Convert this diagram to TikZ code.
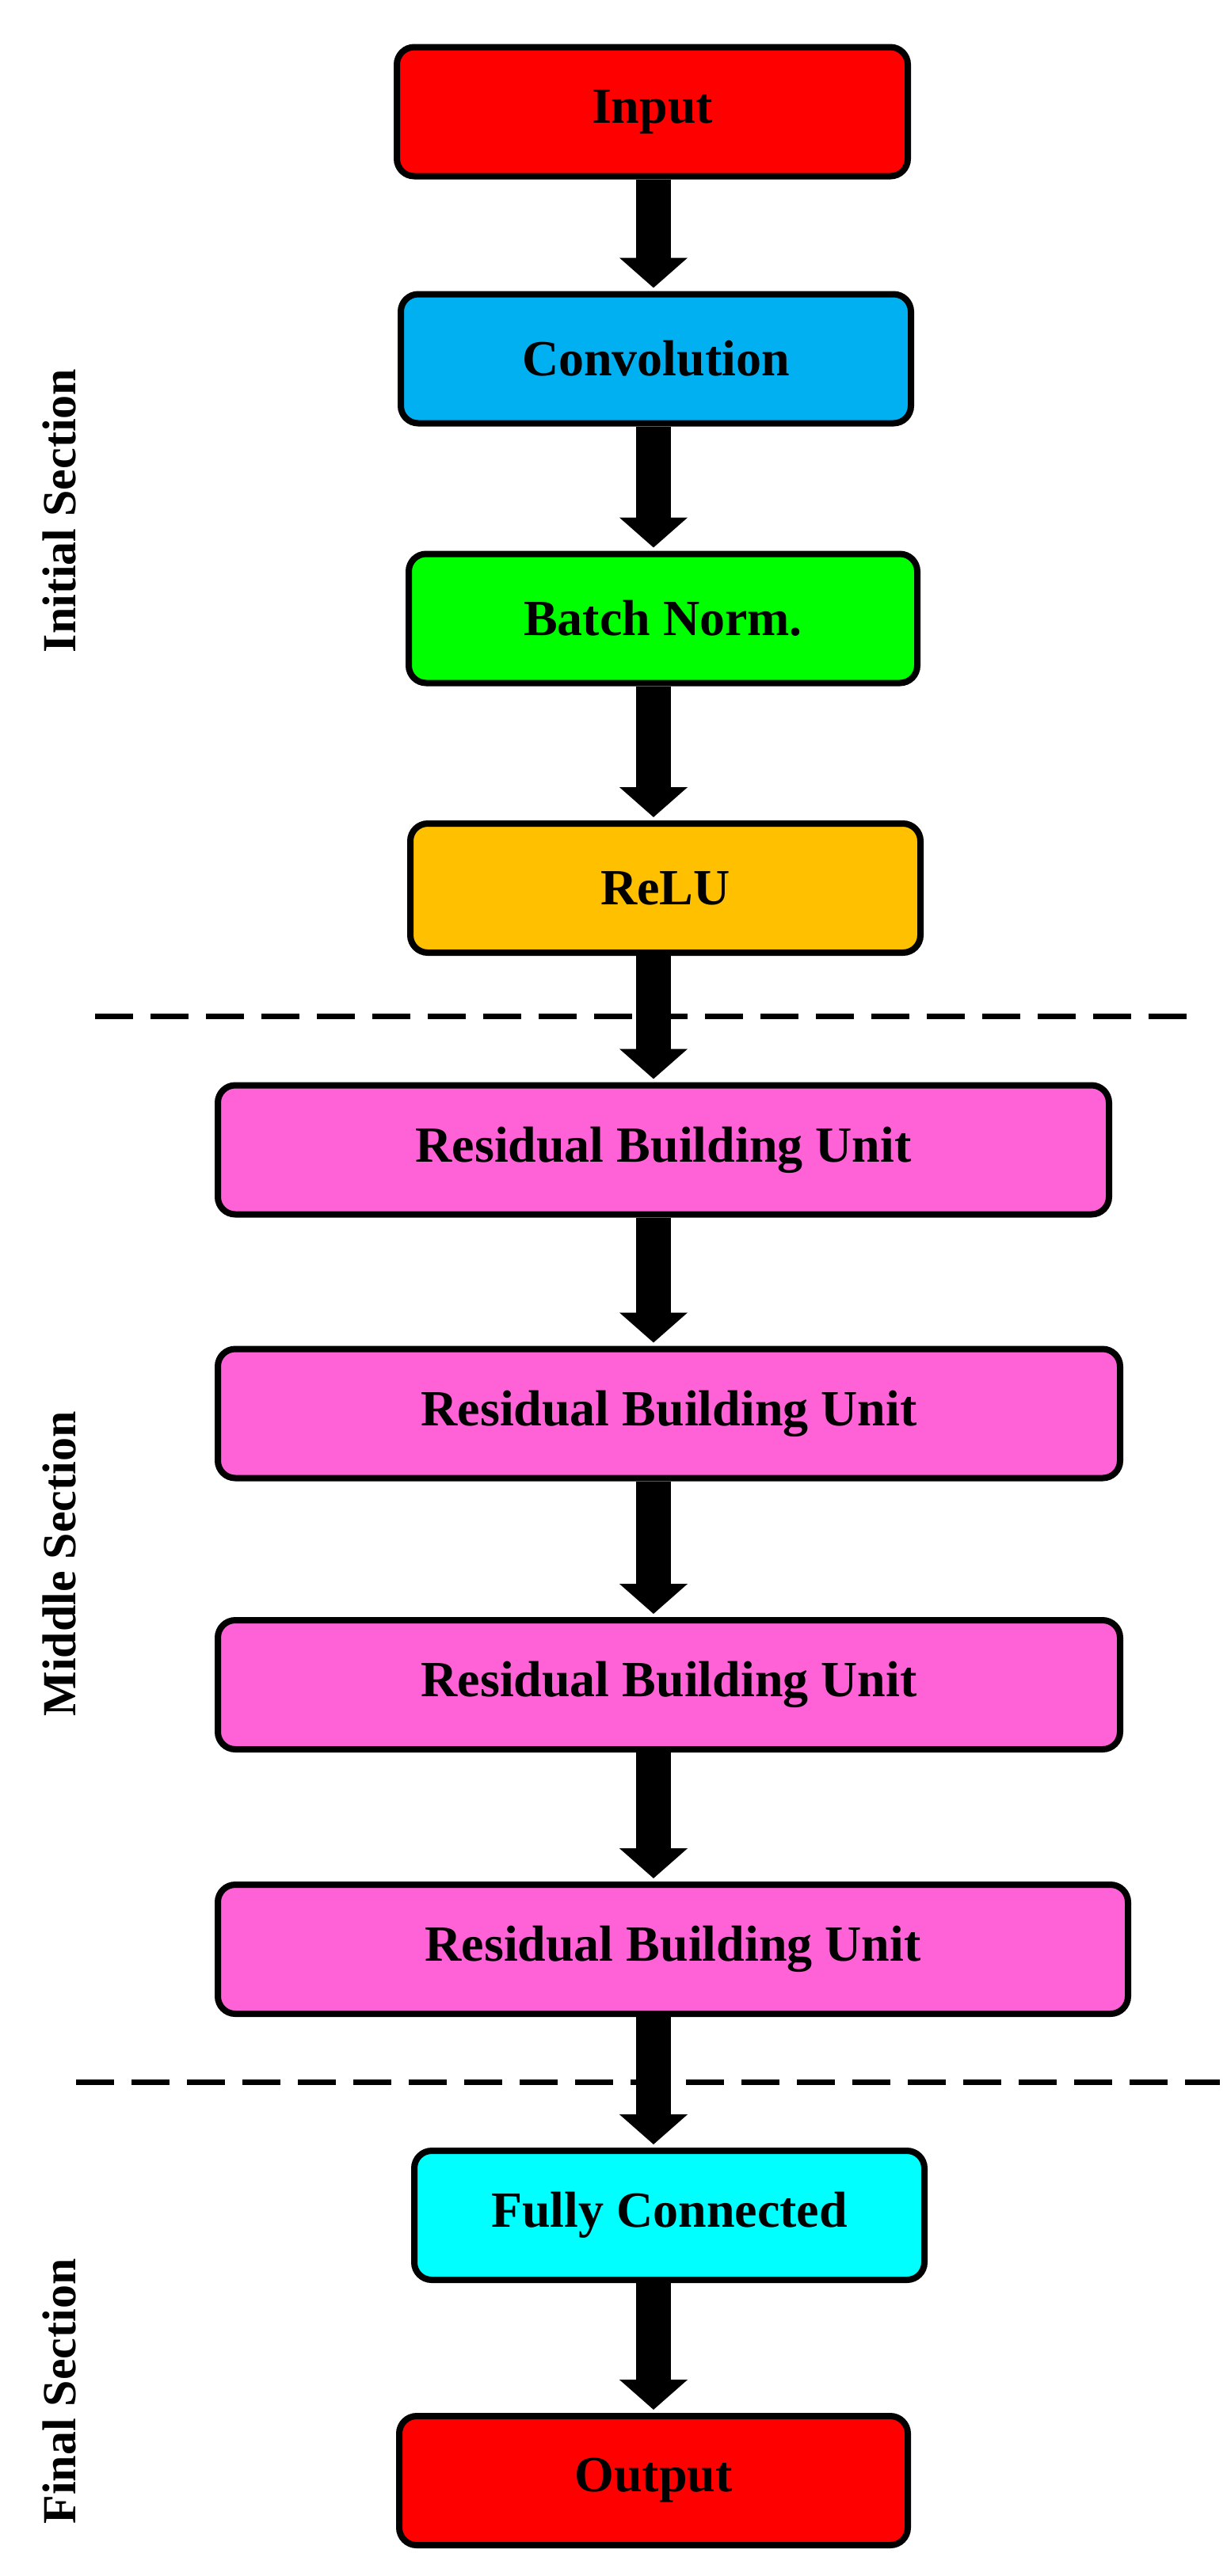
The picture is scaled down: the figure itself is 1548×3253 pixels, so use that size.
\documentclass[tikz,border=0pt]{standalone}
\usepackage{fontspec}
\setmainfont{Liberation Serif}
\usetikzlibrary{arrows.meta}
\definecolor{cin}{HTML}{FF0000}
\definecolor{cconv}{HTML}{00B0F0}
\definecolor{cbn}{HTML}{00FF00}
\definecolor{crelu}{HTML}{FFC000}
\definecolor{crbu}{HTML}{FF61D6}
\definecolor{cfc}{HTML}{00FFFF}
\begin{document}
\begin{tikzpicture}[x=1pt,y=-1pt,
  box/.style={draw=black,line width=8pt,rounded corners=22pt,inner sep=0pt,
    minimum height=#1,font=\fontsize{64}{70}\selectfont\bfseries,text=black},
  box/.default=163pt,
  flow/.style={line width=44pt,-{Triangle[width=84pt,length=38pt]}},
  sec/.style={rotate=90,font=\fontsize{60}{66}\selectfont\bfseries,inner sep=0pt},
  sep/.style={line width=7pt,dash pattern=on 48pt off 22pt}]
\useasboundingbox (0,0) rectangle (1548,3253);
\coordinate (ax) at (825,0);
\node[box,fill=cin,minimum width=645pt] (in) at (823.5,141) {Input};
\node[box,fill=cconv,minimum width=644pt] (conv) at (828,453) {Convolution};
\node[box,fill=cbn,minimum width=642pt] (bn) at (837,781) {Batch Norm.};
\node[box,fill=crelu,minimum width=644pt] (relu) at (840,1121.5) {ReLU};
\node[box,fill=crbu,minimum width=1125pt] (r1) at (837.5,1452) {Residual Building Unit};
\node[box,fill=crbu,minimum width=1139pt] (r2) at (844.5,1785) {Residual Building Unit};
\node[box,fill=crbu,minimum width=1139pt] (r3) at (844.5,2127.5) {Residual Building Unit};
\node[box,fill=crbu,minimum width=1149pt] (r4) at (849.5,2461.5) {Residual Building Unit};
\node[box,fill=cfc,minimum width=644pt] (fc) at (845,2797.5) {Fully Connected};
\node[box,fill=cin,minimum width=642pt] (out) at (825,3132.5) {Output};
\coordinate (d1a) at (120,1283);
\coordinate (d1b) at (1500,1283);
\coordinate (d2a) at (96,2629);
\coordinate (d2b) at (1540,2629);
\draw[sep] (d1a) -- (d1b);
\draw[sep] (d2a) -- (d2b);
\foreach \a/\b in {in/conv,conv/bn,bn/relu,relu/r1,r1/r2,r2/r3,r3/r4,r4/fc,fc/out}
  \draw[flow] (\a.south -| ax) -- ([yshift=4pt]\b.north -| ax);
\node[sec] (s1) at (75,645) {Initial Section};
\node[sec] (s2) at (75,1975) {Middle Section};
\node[sec] (s3) at (75,3020) {Final Section};
\end{tikzpicture}
\end{document}
